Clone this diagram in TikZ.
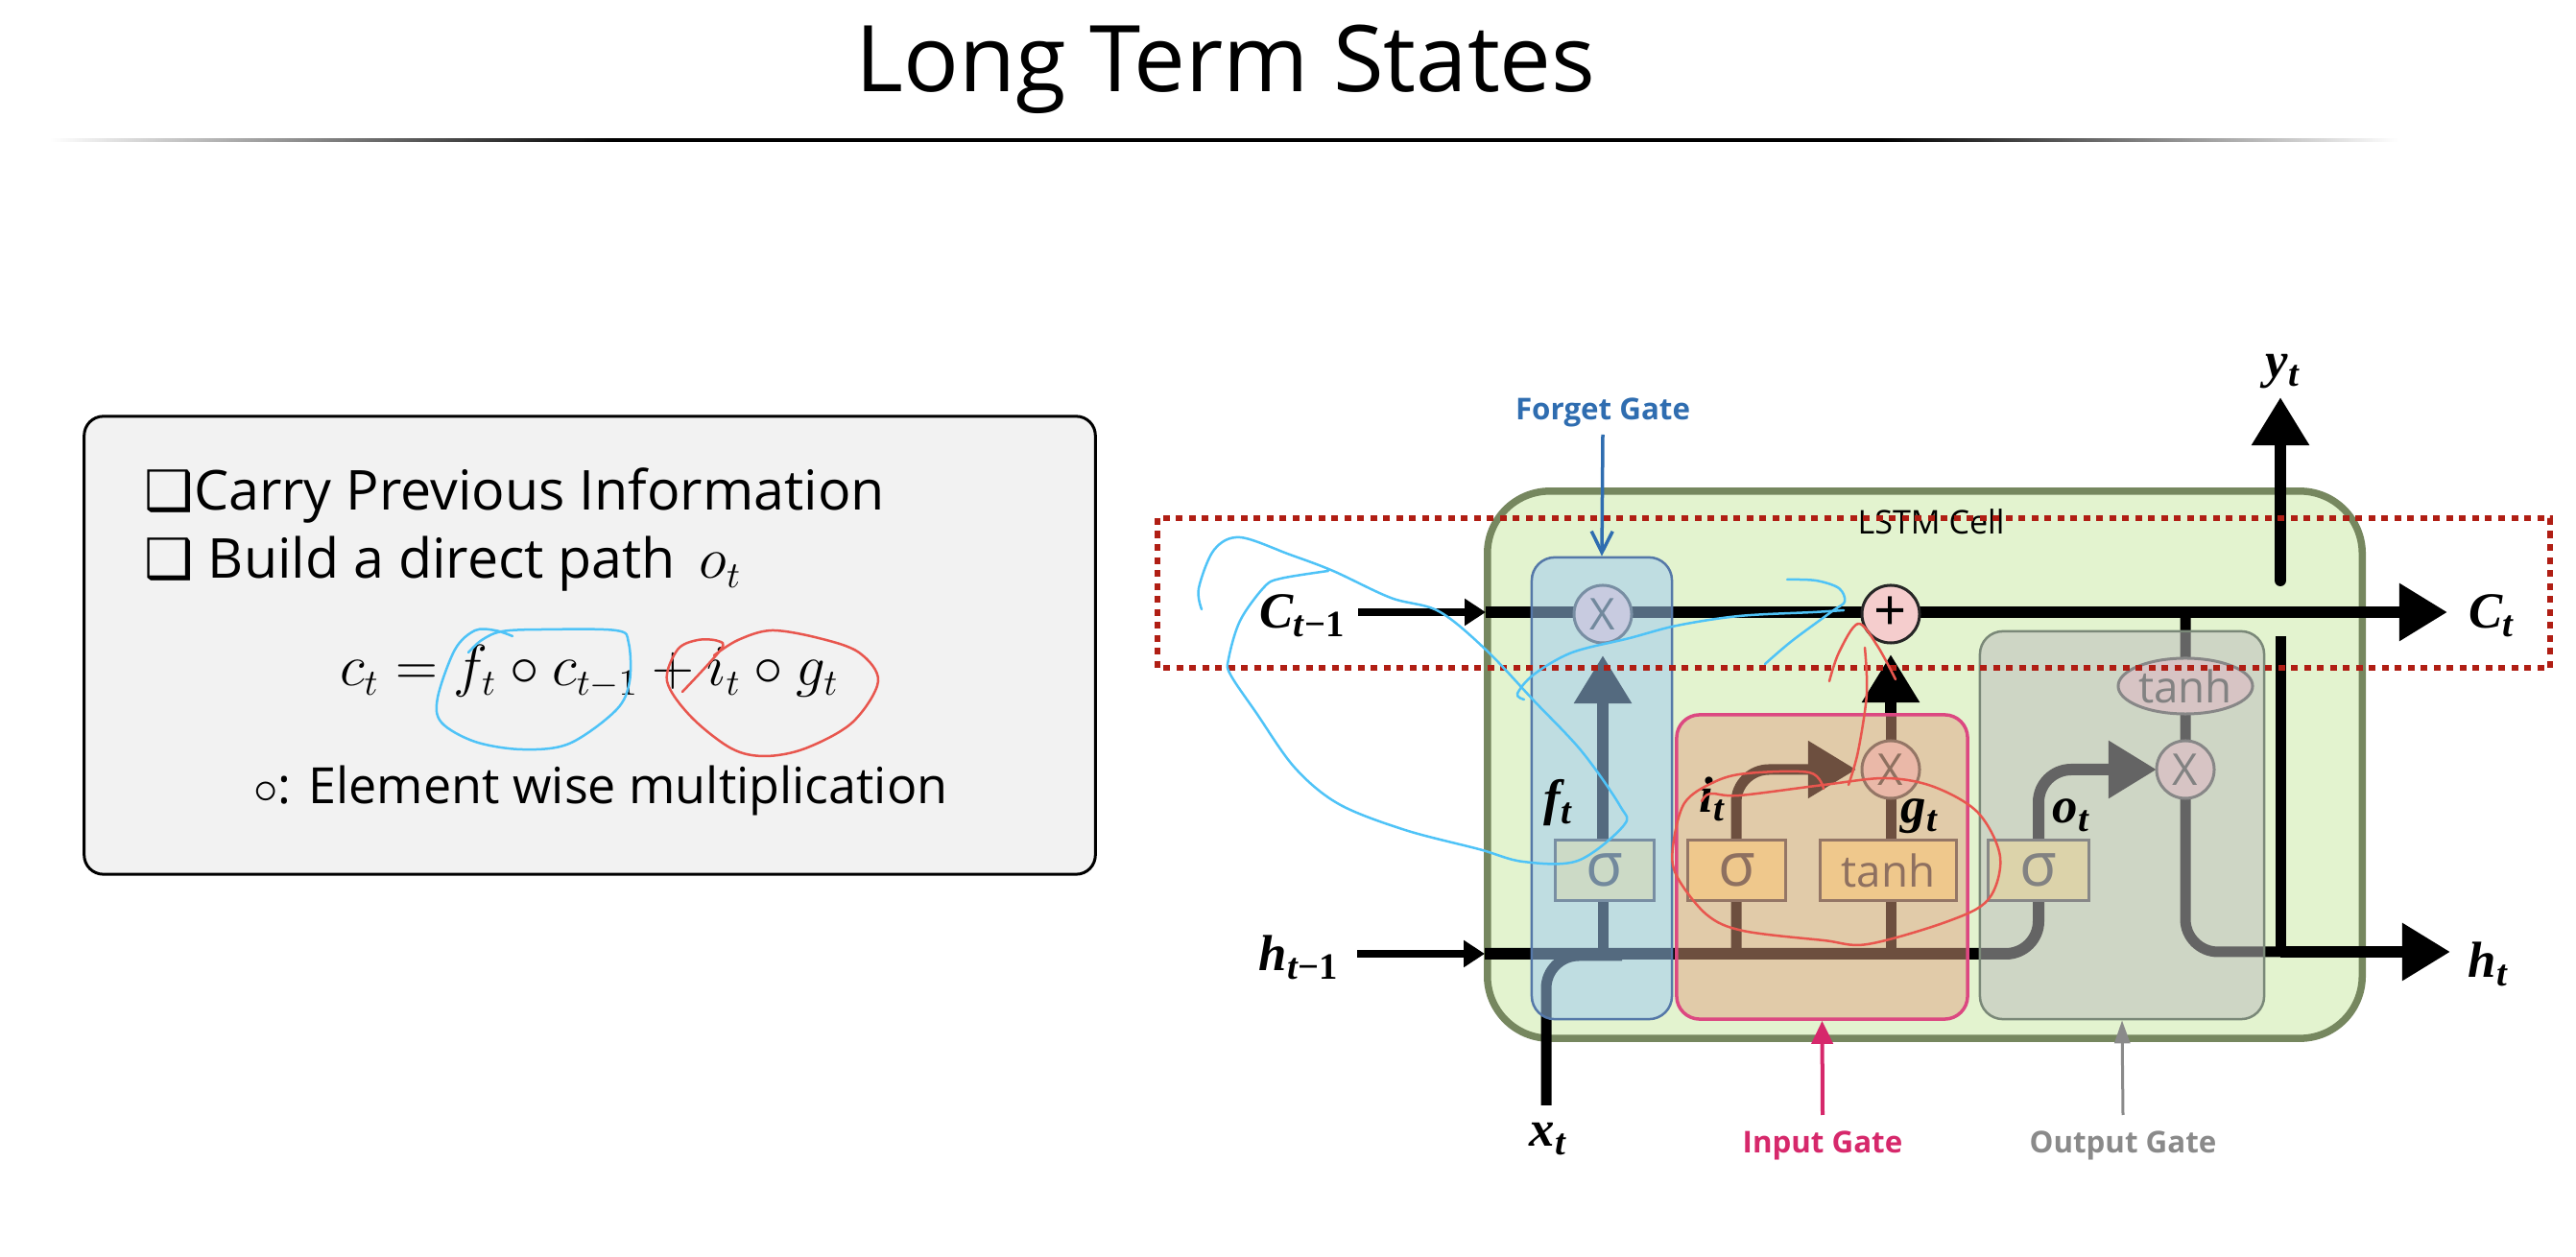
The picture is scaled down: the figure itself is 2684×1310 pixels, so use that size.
\documentclass[tikz,border=0pt]{standalone}
\usepackage{amsmath}
\usepackage{fontspec}
\setmainfont{Open Sans}
\newfontfamily\symfont{DejaVu Sans}
\newfontfamily\tagfont{Liberation Serif}
\usetikzlibrary{arrows.meta,positioning,shapes}
\definecolor{cellfill}{HTML}{E3F3CF}
\definecolor{celledge}{HTML}{76875F}
\definecolor{dashred}{HTML}{B01E14}
\definecolor{inkblue}{HTML}{4FC3F7}
\definecolor{inkred}{HTML}{E8564E}
\definecolor{forgetblue}{HTML}{2F6DB0}
\definecolor{inputpink}{HTML}{D6286B}
\definecolor{outputgray}{HTML}{8A8A8A}
\definecolor{boxyellow}{HTML}{FFEC96}
\definecolor{oppink}{HTML}{F5CDCD}
\newcommand{\linetag}[2]{{\tagfont\bfseries\itshape #1\raisebox{-0.35ex}{\fontsize{11}{11}\selectfont #2}}}
\pgfdeclarehorizontalshading{rulefade}{100bp}{color(0bp)=(white); color(25bp)=(white); color(37bp)=(black); color(64bp)=(black); color(75bp)=(white); color(100bp)=(white)}

\begin{document}
\begin{tikzpicture}[
    x=0.01cm, y=-0.01cm,
    heavy/.style={line width=1.2mm, black},
    feed/.style={line width=0.85mm, black},
    stem/.style={line width=1.1mm, black},
    bighead/.style={-{Triangle[length=5mm, width=5.7mm]}},
    smallhead/.style={-{Triangle[length=2.2mm, width=2.7mm]}},
    sigmabox/.style={rectangle, draw=black!70, line width=0.3mm, fill=boxyellow, minimum height=6.2mm, inner sep=0pt, font=\fontsize{18}{18}\selectfont, text=black!75},
    mulop/.style={circle, draw=black!70, line width=0.3mm, fill=oppink, minimum size=6mm, inner sep=0pt, font=\fontsize{13}{13}\selectfont, text=black!75},
    gatebox/.style={rectangle, rounded corners=2.4mm, line width=0.25mm},
    gatetag/.style={anchor=base, font=\fontsize{8.9}{10}\selectfont\bfseries},
    mathtag/.style={anchor=base west, inner sep=0pt, font=\fontsize{15}{16}\selectfont},
    bullet/.style={anchor=base west, inner sep=0pt, font=\fontsize{16.3}{18}\selectfont},
    ink/.style={line width=0.25mm, line cap=round, line join=round}
]
\useasboundingbox (0,0) rectangle (2684,1310);

% Title
\node[anchor=base, font=\fontsize{27.3}{30}\selectfont] (title) at (1277,96) {Long Term States};
\shade[shading=rulefade] (51,145) rectangle (2499,148);

% Text panel
\node[rectangle, draw=black, fill=black!5, line width=0.3mm, rounded corners=2mm, minimum width=105.3mm, minimum height=47.7mm] (panel) at (614.5,672.5) {};
\node[bullet] (carry) at (150,532) {{\symfont ❑}Carry Previous Information};
\node[bullet] (build) at (150,603) {{\symfont ❑} Build a direct path \,$o_t$};
\node[anchor=base, font=\fontsize{16}{18}\selectfont] (formula) at (614,715) {$c_t = f_t \circ c_{t-1} + i_t \circ g_t$};
\node[anchor=base, font=\fontsize{14.8}{18}\selectfont] (elementwise) at (626,838) {$\circ$: Element wise multiplication};

% LSTM cell
\node[rectangle, draw=celledge, fill=cellfill, line width=0.75mm, rounded corners=6.5mm, minimum width=91.1mm, minimum height=57mm] (cell) at (2005.5,797) {};
\node[anchor=base, font=\fontsize{9.7}{10}\selectfont] (celltag) at (2012,557) {LSTM Cell};

% Points the lines run through
\coordinate (cstart) at (1415,638);
\coordinate (centry) at (1548,638);
\coordinate (ctip) at (2550,638);
\coordinate (hstart) at (1414,994);
\coordinate (hentry) at (1547,994);
\coordinate (hbend) at (2124,994);
\coordinate (obend) at (2124,802);
\coordinate (xstart) at (1611,1152);
\coordinate (xbend) at (1611,996);
\coordinate (xjoin) at (1690,996);
\coordinate (ibase) at (1809,994);
\coordinate (ibend) at (1809,802);
\coordinate (gbase) at (1970,994);
\coordinate (fbase) at (1670,994);
\coordinate (tapin) at (2277,638);
\coordinate (tapbend) at (2277,992);
\coordinate (hexit) at (2376,992);
\coordinate (htip) at (2553,992);
\coordinate (ystub) at (2376,663);
\coordinate (ylow) at (2376,605);

% Operators and activations sit above the lines
\draw[feed, smallhead] (cstart) -- (centry);
\draw[heavy, bighead] (centry) -- (ctip);
\draw[feed, smallhead] (hstart) -- (hentry);
\draw[stem] (fbase) -- (1670,900);
\draw[heavy, bighead] (1670,900) -- (1670,683);
\draw[stem, rounded corners=3.4mm] (xstart) -- (xbend) -- (xjoin);
\draw[heavy, bighead, rounded corners=3.4mm] (hentry) -- (hbend) -- (obend) -- (2247,802);
\draw[stem, bighead, rounded corners=3.4mm] (ibase) -- (ibend) -- (1934,802);
\draw[stem] (gbase) -- (1970,745);
\draw[heavy, bighead] (1970,745) -- (1970,682);
\draw[stem, rounded corners=3.4mm] (tapin) -- (tapbend) -- (hexit);
\draw[heavy, bighead] (hexit) -- (htip);
\draw[stem] (ystub) -- (hexit);
\draw[heavy, bighead, line cap=round] (ylow) -- (2376,414);

\node[mulop] (mulforget) at (1670,640) {X};
\node[mulop] (mulinput) at (1970,802) {X};
\node[mulop] (muloutput) at (2277,802) {X};
\node[mulop, draw=black!85, font=\fontsize{17}{17}\selectfont, text=black] (addcell) at (1970,640) {+};
\node[ellipse, draw=black!70, line width=0.3mm, fill=oppink, minimum width=14mm, minimum height=5.8mm, inner sep=0pt, font=\fontsize{13}{13}\selectfont, text=black!75] (tanhout) at (2277,715) {tanh};
\node[sigmabox, minimum width=10.2mm] (sigforget) at (1672,907) {σ};
\node[sigmabox, minimum width=10.1mm] (siginput) at (1809.5,907) {σ};
\node[sigmabox, minimum width=14.1mm, font=\fontsize{13}{13}\selectfont] (tanhinput) at (1967.5,907) {tanh};
\node[sigmabox, minimum width=10.4mm] (sigoutput) at (2124,907) {σ};

% Gate regions tint whatever lies under them
\node[gatebox, draw={rgb,255:red,85;green,120;blue,168}, fill={rgb,255:red,160;green,202;blue,241}, fill opacity=0.53, minimum width=14.6mm, minimum height=48.1mm] (forget) at (1669,821.5) {};
\node[gatebox, draw=inputpink!85!white, fill={rgb,255:red,224;green,163;blue,130}, fill opacity=0.49, line width=0.35mm, minimum width=30.3mm, minimum height=31.7mm] (input) at (1898.5,903.5) {};
\node[gatebox, draw={rgb,255:red,122;green,136;blue,120}, fill={rgb,255:red,189;green,189;blue,189}, fill opacity=0.53, minimum width=29.6mm, minimum height=40.4mm] (output) at (2211,860) {};

% Line labels
\node[mathtag] (clabel) at (1312,655) {\linetag{C}{t\textup{−1}}};
\node[mathtag] (cnext) at (2572,655) {\linetag{C}{t}};
\node[mathtag] (ylabel) at (2360,394) {\linetag{y}{t}};
\node[mathtag] (hlabel) at (1311,1012) {\linetag{h}{t\textup{−1}}};
\node[mathtag] (hnext) at (2571,1019) {\linetag{h}{t}};
\node[mathtag] (xlabel) at (1593,1195) {\linetag{x}{t}};
\node[mathtag] (flabel) at (1608,850) {\linetag{f}{t}};
\node[mathtag] (ilabel) at (1770,847) {\linetag{i}{t}};
\node[mathtag] (glabel) at (1980,858) {\linetag{g}{t}};
\node[mathtag] (olabel) at (2138,858) {\linetag{o}{t}};

% Gate captions
\node[gatetag, text=forgetblue] (forgettag) at (1670,438) {Forget Gate};
\node[gatetag, text=inputpink] (inputtag) at (1899,1202) {Input Gate};
\node[gatetag, text=outputgray] (outputtag) at (2212,1202) {Output Gate};
\coordinate (forgetfrom) at (1670,453);
\coordinate (inputfrom) at (1899,1162);
\coordinate (outputfrom) at (2212,1162);
\draw[forgetblue, line width=0.35mm, -{Straight Barb[length=2.2mm, width=2.2mm]}] (forgetfrom) -- (forget.north);
\draw[inputpink, line width=0.4mm, -{Triangle[length=2.4mm, width=2.2mm]}] (inputfrom) -- (input.south);
\draw[outputgray, line width=0.3mm, -{Triangle[length=2.4mm, width=1.6mm]}] (outputfrom) -- (output.south);

% Dotted highlight
\draw[dashred, line width=0.55mm, dash pattern=on 0.7mm off 0.65mm] (1206,540) rectangle (2657,696);

% Pen marks
\draw[ink, inkblue] plot[smooth, tension=0.55] coordinates {(1252,635) (1249,613) (1265,573) (1292,560) (1344,578) (1389,595) (1449,623) (1499,637) (1548,677) (1598,730) (1648,783) (1688,840) (1692,860) (1644,897) (1587,898) (1541,885) (1464,865) (1395,838) (1349,800) (1309,743) (1282,703) (1280,687) (1292,647) (1317,612) (1334,603) (1384,595)};
\draw[ink, inkblue] plot[smooth, tension=0.55] coordinates {(1588,729) (1581,723) (1598,703) (1638,680) (1698,665) (1747,652) (1812,642) (1889,638) (1921,636)};
\draw[ink, inkblue] plot[smooth, tension=0.55] coordinates {(1839,692) (1867,668) (1909,637) (1922,627) (1916,613) (1892,605) (1862,604)};
\draw[ink, inkred] plot[smooth, tension=0.55] coordinates {(1906,710) (1916,680) (1936,650) (1956,673) (1975,708)};
\draw[ink, inkred] plot[smooth, tension=0.55] coordinates {(1943,675) (1945,723) (1936,783) (1926,818)};
\draw[ink, inkred] plot[smooth, tension=0.55] coordinates {(1773,835) (1782,827) (1812,829) (1900,818) (1965,811) (2015,820) (2061,847) (2084,893) (2072,937) (2030,960) (1946,984) (1900,980) (1816,970) (1778,953) (1747,913) (1743,883) (1755,837) (1786,815) (1820,806) (1885,805) (1900,822)};
\draw[ink, inkblue] plot[smooth, tension=0.55] coordinates {(534,663) (516,657) (495,657) (474,677) (456,727) (460,753) (495,773) (544,781) (593,775) (642,740) (656,710) (655,670) (642,657) (565,656) (523,658) (502,667) (488,680)};
\draw[ink, inkred] plot[smooth, tension=0.55] coordinates {(711,721) (751,677) (748,668) (727,667) (706,677) (695,710) (720,747) (762,780) (797,788) (839,780) (888,753) (915,710) (895,680) (853,665) (804,657) (769,667) (744,683)};

\end{tikzpicture}
\end{document}
